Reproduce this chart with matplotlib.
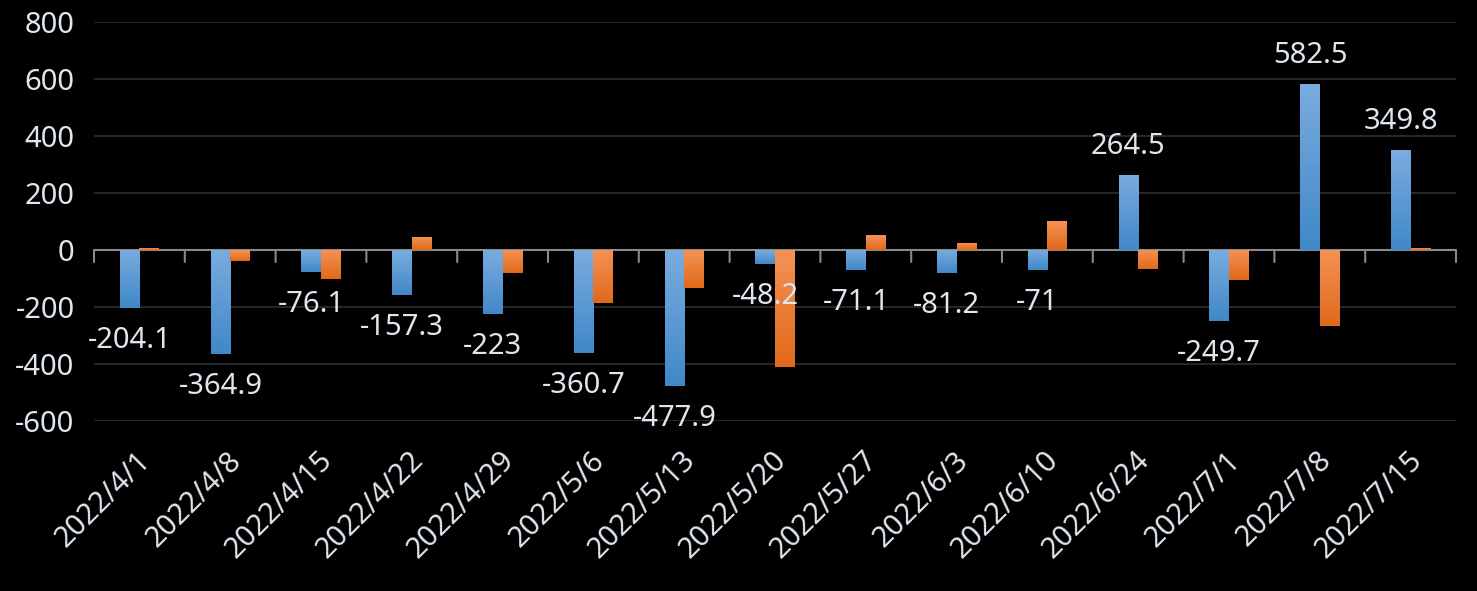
import numpy as np
import matplotlib
matplotlib.use("Agg")
import matplotlib.pyplot as plt
from matplotlib.colors import LinearSegmentedColormap
import matplotlib.transforms as mtransforms

dates = ["2022/4/1", "2022/4/8", "2022/4/15", "2022/4/22", "2022/4/29",
         "2022/5/6", "2022/5/13", "2022/5/20", "2022/5/27", "2022/6/3",
         "2022/6/10", "2022/6/24", "2022/7/1", "2022/7/8", "2022/7/15"]
series_blue = [-204.1, -364.9, -76.1, -157.3, -223, -360.7, -477.9, -48.2,
               -71.1, -81.2, -71, 264.5, -249.7, 582.5, 349.8]
series_orange = [6, -38, -102, 47, -81, -187, -135, -411, 51, 26, 103,
                 -68, -107, -268, 7]
y_ticks = [-600, -400, -200, 0, 200, 400, 600, 800]

plt.rcParams['font.family'] = ['Noto Sans', 'DejaVu Sans']
text_color = '#dfe6ee'

fig = plt.figure(figsize=(14.77, 5.91), dpi=100, facecolor='black')
ax = fig.add_axes([94/1477, 1-421/591, (1456-94)/1477, (421-22)/591])
ax.set_facecolor('black')

x = np.arange(len(dates))
w = 0.215
bars_b = ax.bar(x - w/2, series_blue, width=w, color='#5b9bd5', zorder=3, linewidth=0)
bars_o = ax.bar(x + w/2, series_orange, width=w, color='#ed7d31', zorder=3, linewidth=0)

cmap_b = LinearSegmentedColormap.from_list('b', ['#7aacdf', '#4088c8'])
cmap_o = LinearSegmentedColormap.from_list('o', ['#f49356', '#e0691a'])
grad = np.linspace(0, 1, 256).reshape(-1, 1)

ax.set_xlim(-0.5, len(dates) - 0.5)
ax.set_ylim(-600, 800)
ax.set_autoscale_on(False)

for bars, cm in ((bars_b, cmap_b), (bars_o, cmap_o)):
    for p in bars:
        x0 = p.get_x(); x1 = x0 + p.get_width()
        y0 = p.get_y(); y1 = y0 + p.get_height()
        lo, hi = min(y0, y1), max(y0, y1)
        if hi - lo <= 0:
            continue
        im = ax.imshow(grad, cmap=cm, aspect='auto', origin='upper',
                       extent=(x0, x1, lo, hi), zorder=4, interpolation='bilinear')
        im.set_clip_path(p)

# gridlines
for yt in y_ticks:
    if yt != 0:
        ax.axhline(yt, color='#262626', lw=1.5, zorder=1)
ax.axhline(0, color='#898989', lw=1.5, zorder=2)

# category boundary ticks on the zero axis
for b in np.arange(-0.5, len(dates), 1.0):
    ax.annotate('', xy=(b, 0), xytext=(0, -12), textcoords='offset pixels',
                arrowprops=dict(arrowstyle='-', color='#898989', lw=1.5,
                                shrinkA=0, shrinkB=0), zorder=2)

# data labels for blue series
for xi, v in zip(x, series_blue):
    off = 21 if v >= 0 else -40
    ax.annotate(f"{v:g}", xy=(xi - w/2, v), xytext=(0, off), textcoords='offset pixels',
                ha='center', va='baseline', fontsize=21, color=text_color, zorder=6)

for s in ax.spines.values():
    s.set_visible(False)

ax.set_yticks(y_ticks)
ax.set_yticklabels([str(t) for t in y_ticks])
ax.tick_params(axis='y', length=0, pad=14, labelsize=21, labelcolor=text_color)

ax.set_xticks(x)
ax.set_xticklabels(dates)
ax.tick_params(axis='x', length=0, pad=18, labelsize=21, labelcolor=text_color)
offset = mtransforms.ScaledTranslation(-3/100, 0, fig.dpi_scale_trans)
for lab in ax.get_xticklabels():
    lab.set_rotation(45)
    lab.set_ha('right')
    lab.set_va('top')
    lab.set_rotation_mode('anchor')
    lab.set_transform(lab.get_transform() + offset)

fig.savefig('out.png', dpi=100, facecolor='black')
